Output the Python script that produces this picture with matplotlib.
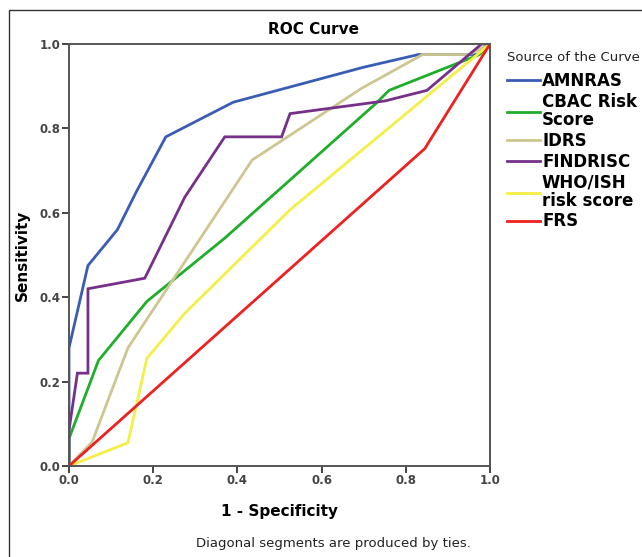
import matplotlib
matplotlib.use("Agg")
import matplotlib.pyplot as plt
from matplotlib.patches import Rectangle

labels = ["AMNRAS", "CBAC Risk\nScore", "IDRS", "FINDRISC", "WHO/ISH\nrisk score", "FRS"]
colors = ["#3b5cb5", "#1fae2a", "#cdc690", "#76308a", "#f4ef45", "#ee2020"]

amnras_x = [0.0, 0.0, 0.045, 0.115, 0.16, 0.23, 0.39, 0.70, 0.83, 0.97, 1.0]
amnras_y = [0.0, 0.28, 0.475, 0.56, 0.65, 0.78, 0.862, 0.945, 0.975, 0.975, 1.0]

cbac_x = [0.0, 0.0, 0.07, 0.185, 0.37, 0.73, 0.76, 0.975, 1.0]
cbac_y = [0.0, 0.065, 0.25, 0.39, 0.54, 0.86, 0.89, 0.975, 1.0]

idrs_x = [0.0, 0.055, 0.14, 0.435, 0.695, 0.84, 0.95, 1.0]
idrs_y = [0.0, 0.057, 0.28, 0.725, 0.895, 0.975, 0.975, 1.0]

find_x = [0.0, 0.0, 0.02, 0.045, 0.045, 0.18, 0.275, 0.37, 0.505, 0.525, 0.75, 0.85, 0.98, 1.0]
find_y = [0.0, 0.085, 0.22, 0.22, 0.42, 0.445, 0.637, 0.78, 0.78, 0.835, 0.865, 0.89, 1.0, 1.0]

who_x = [0.0, 0.14, 0.185, 0.275, 0.525, 1.0]
who_y = [0.0, 0.055, 0.255, 0.362, 0.607, 1.0]

frs_x = [0.0, 0.845, 1.0]
frs_y = [0.0, 0.752, 1.0]

series = [(amnras_x, amnras_y), (cbac_x, cbac_y), (idrs_x, idrs_y),
          (find_x, find_y), (who_x, who_y), (frs_x, frs_y)]

W, H = 642, 557
fig = plt.figure(figsize=(W / 100, H / 100), dpi=100)
fig.patch.set_facecolor("white")
ax = fig.add_axes([69 / W, 1 - 466 / H, (490 - 69) / W, (466 - 44) / H])

lines = []
for (x, y), c, lab in zip(series, colors, labels):
    ln, = ax.plot(x, y, color=c, lw=2.0, label=lab, solid_joinstyle="miter")
    lines.append(ln)

ax.set_xlim(0, 1)
ax.set_ylim(0, 1)
ticks = [0.0, 0.2, 0.4, 0.6, 0.8, 1.0]
ax.set_xticks(ticks)
ax.set_yticks(ticks)
ax.set_xticklabels([f"{t:.1f}" for t in ticks])
ax.set_yticklabels([f"{t:.1f}" for t in ticks])
for s in ax.spines.values():
    s.set_color("#555555")
    s.set_linewidth(1.4)
ax.tick_params(direction="out", length=5, width=1.4, color="#444444",
               labelsize=8.5, labelcolor="#444444", pad=1)
for t in ax.get_xticklabels() + ax.get_yticklabels():
    t.set_fontweight("bold")

ax.set_xlabel("1 - Specificity", fontsize=11, fontweight="bold", labelpad=12)
ax.set_ylabel("Sensitivity", fontsize=11, fontweight="bold", labelpad=7)

fig.text(314 / W, 1 - 29 / H, "ROC Curve", ha="center", va="center",
         fontsize=11, fontweight="bold")
fig.text(333 / W, 1 - 543 / H, "Diagonal segments are produced by ties.",
         ha="center", va="center", fontsize=9.5, color="#222222")

leg = ax.legend(handles=lines, loc="upper left", bbox_to_anchor=(507 / W, 1 - 51 / H),
                bbox_transform=fig.transFigure, frameon=False,
                title="Source of the Curve", title_fontsize=9.5,
                prop={"family": "DejaVu Sans", "weight": "bold", "size": 12},
                handlelength=2.0, handletextpad=0.1, labelspacing=0.17,
                borderaxespad=0, borderpad=0)
leg._legend_box.align = "left"
leg._legend_box.sep = 6
for t in leg.get_texts():
    t.set_linespacing(1.0)
leg.get_title().set_color("#222222")

fig.patches.append(Rectangle((9 / W, -0.05), 1.1, 1 - 10 / H + 0.05,
                             transform=fig.transFigure, fill=False,
                             edgecolor="#333333", lw=1.0))

fig.savefig("out.png", dpi=100)
